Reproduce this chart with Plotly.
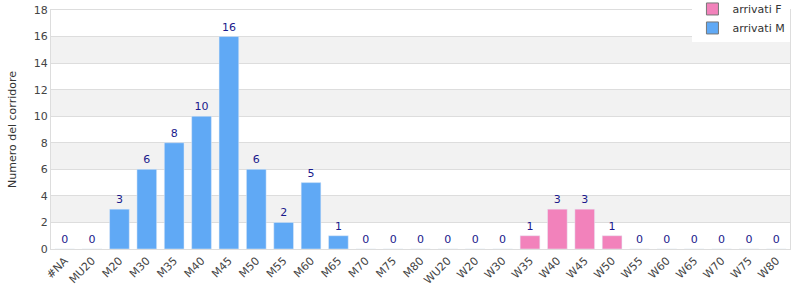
import plotly.graph_objects as go

categories = ["#NA", "MU20", "M20", "M30", "M35", "M40", "M45", "M50", "M55", "M60",
              "M65", "M70", "M75", "M80", "WU20", "W20", "W30", "W35", "W40", "W45",
              "W50", "W55", "W60", "W65", "W70", "W75", "W80"]
male_cats = categories[:14]
male_vals = [0, 0, 3, 6, 8, 10, 16, 6, 2, 5, 1, 0, 0, 0]
female_cats = categories[14:]
female_vals = [0, 0, 0, 1, 3, 3, 1, 0, 0, 0, 0, 0, 0]
y_ticks = [0, 2, 4, 6, 8, 10, 12, 14, 16, 18]

BLUE = "#60a9f5"
PINK = "#f282bb"
FONT = "DejaVu Sans"

fig = go.Figure()
fig.add_trace(go.Bar(x=male_cats, y=male_vals, marker_color=BLUE, showlegend=False,
                     text=[str(v) for v in male_vals], textposition="outside",
                     textfont=dict(color="#1a1a8c", size=11, family=FONT),
                     cliponaxis=False, width=0.72))
fig.add_trace(go.Bar(x=female_cats, y=female_vals, marker_color=PINK, showlegend=False,
                     text=[str(v) for v in female_vals], textposition="outside",
                     textfont=dict(color="#1a1a8c", size=11, family=FONT),
                     cliponaxis=False, width=0.72))
# legend entries
fig.add_trace(go.Bar(x=[None], y=[None], name="arrivati F",
                     marker=dict(color=PINK, line=dict(color="#777", width=1))))
fig.add_trace(go.Bar(x=[None], y=[None], name="arrivati M",
                     marker=dict(color=BLUE, line=dict(color="#777", width=1))))

shapes = []
for lo in [2, 6, 10, 14]:
    shapes.append(dict(type="rect", xref="paper", yref="y", x0=0, x1=1, y0=lo, y1=lo + 2,
                       fillcolor="#f2f2f2", line=dict(width=0), layer="below"))

fig.update_layout(
    width=800, height=300,
    margin=dict(l=51, r=10, t=10, b=51, autoexpand=False),
    barmode="overlay",
    plot_bgcolor="white", paper_bgcolor="white",
    font=dict(family=FONT, size=11, color="#444"),
    shapes=shapes,
    showlegend=True,
    legend=dict(x=0.868, xanchor="left", y=1.065, yanchor="top", bgcolor="white",
                font=dict(family=FONT, size=11, color="#333"),
                tracegroupgap=0, itemwidth=30, traceorder="normal"),
    xaxis=dict(categoryorder="array", categoryarray=categories, tickangle=-45,
               showline=True, linecolor="#ddd", mirror=True, ticks="",
               tickfont=dict(size=11, color="#444")),
    yaxis=dict(range=[0, 18], tickvals=y_ticks, showgrid=True, gridcolor="#ddd",
               showline=True, linecolor="#ddd", mirror=True, zeroline=False,
               title=dict(text="Numero del corridore", font=dict(size=11, color="#333"), standoff=14),
               tickfont=dict(size=11, color="#444")),
)

fig.write_html("out.html")
